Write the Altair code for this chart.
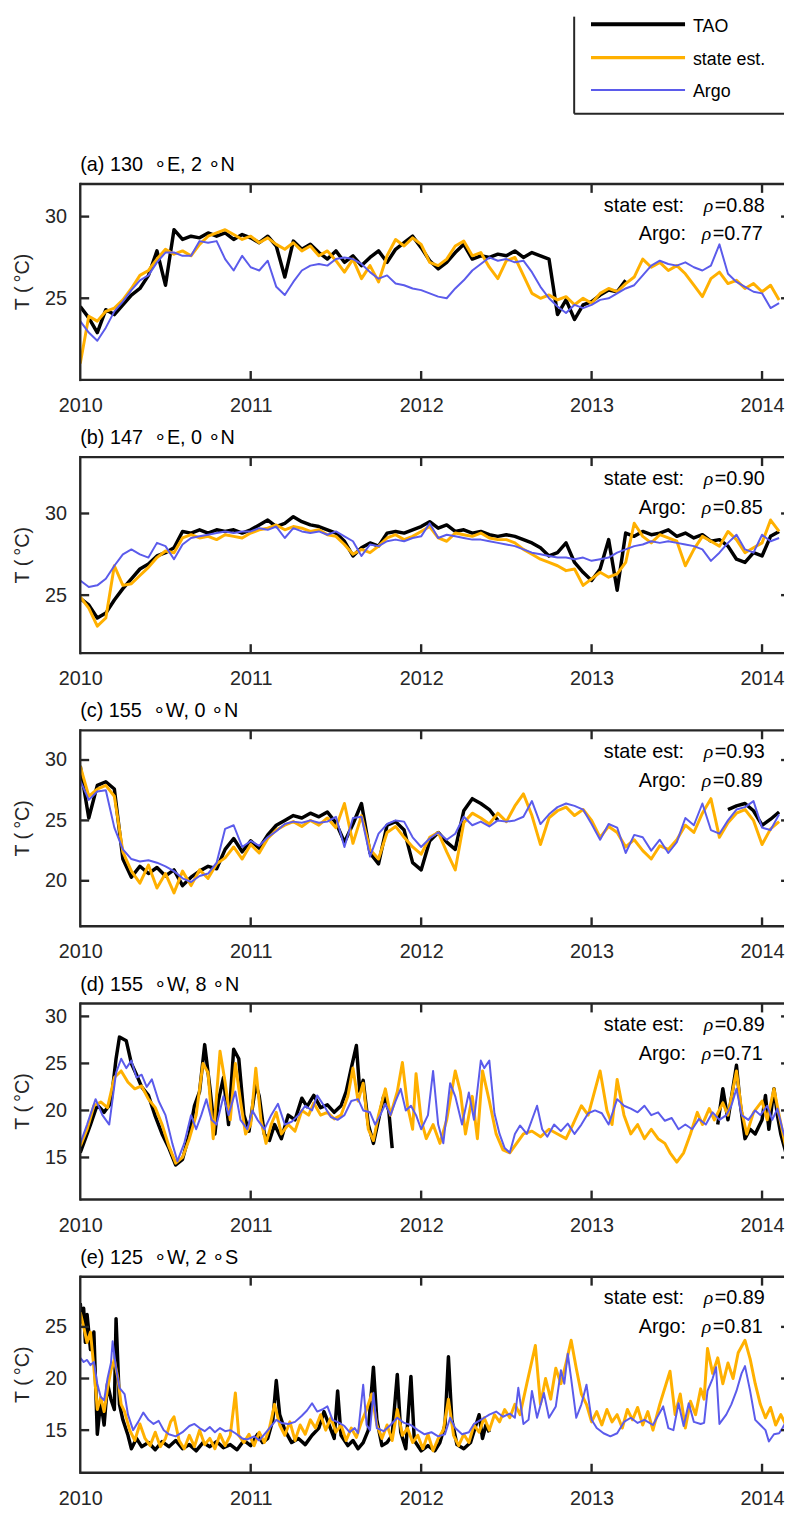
import altair as alt
import pandas as pd

# ---------------- data ----------------
GRID = [round(2010 + 0.05 * i, 2) for i in range(83)]   # sampling dates for panels a-c

A_TAO = [24.5, 23.8, 22.9, 24.3, 24.0, 24.6, 25.2, 25.6, 26.4, 27.9,
         25.8, 29.2, 28.6, 28.8, 28.7, 29.0, 28.8, 29.0, 28.6, 28.9,
         28.7, 28.4, 28.8, 28.2, 26.3, 28.5, 28.0, 28.3, 27.8, 27.4,
         27.9, 27.2, 27.6, 27.0, 27.5, 27.9, 27.2, 28.0, 28.4, 28.8,
         28.1, 27.3, 26.8, 27.2, 27.8, 28.3, 27.4, 27.6, 27.5, 27.7,
         27.6, 27.9, 27.5, 27.8, 27.6, 27.4, 24.0, 24.9, 23.7, 24.6,
         24.8, 25.2, 25.5, 25.4, 26.1]
A_EST = [21.0, 23.9, 23.6, 24.2, 24.4, 24.9, 25.6, 26.4, 26.7, 27.4,
         28.0, 27.7, 27.9, 27.6, 28.3, 28.8, 29.0, 29.2, 28.9, 28.6,
         28.8, 28.4, 28.7, 28.3, 28.0, 28.4, 27.9, 28.2, 27.6, 27.9,
         27.3, 26.6, 27.4, 26.2, 27.0, 26.0, 27.6, 28.6, 28.2, 28.7,
         28.3, 27.2, 27.0, 27.4, 28.2, 28.5, 27.6, 27.8, 26.9, 26.2,
         27.3, 27.5, 26.4, 25.3, 25.0, 25.2, 24.9, 25.1, 24.6, 25.0,
         24.7, 25.3, 25.6, 25.4, 25.9, 26.3, 27.4, 26.9, 27.2, 26.7,
         27.0, 26.5, 25.8, 25.1, 26.2, 26.6, 25.9, 26.1, 25.6, 25.9,
         25.4, 25.8, 24.9]
A_ARGO = [23.6, 22.9, 22.4, 23.2, 24.2, 24.8, 25.5, 26.1, 26.4, 27.2,
          27.8, 27.8, 27.6, 27.6, 28.5, 28.4, 28.5, 27.4, 26.7, 27.6,
          26.9, 26.7, 27.3, 25.7, 25.2, 26.0, 26.7, 27.0, 27.1, 27.0,
          27.4, 27.5, 27.4, 27.1, 26.6, 26.2, 26.4, 25.9, 25.8, 25.6,
          25.5, 25.3, 25.1, 25.0, 25.6, 26.1, 26.7, 27.1, 27.5, 27.3,
          27.4, 27.2, 27.3, 26.6, 25.7, 25.0, 24.5, 24.1, 24.6, 24.4,
          24.6, 24.9, 25.0, 25.3, 25.6, 25.8, 26.4, 27.0, 27.3, 27.1,
          27.0, 27.2, 26.9, 26.7, 27.0, 28.3, 26.5, 26.0, 25.7, 25.4,
          25.3, 24.4, 24.7]

B_TAO = [24.8, 24.4, 23.6, 23.9, 24.7, 25.4, 26.0, 26.6, 26.9, 27.4,
         27.6, 27.9, 28.9, 28.8, 29.0, 28.8, 29.0, 28.9, 29.0, 28.8,
         29.0, 29.3, 29.6, 29.2, 29.4, 29.8, 29.5, 29.3, 29.2, 29.0,
         28.8, 28.3, 27.4, 27.9, 28.2, 28.0, 28.8, 28.9, 28.8, 29.0,
         29.2, 29.5, 29.1, 29.3, 28.9, 29.0, 28.8, 28.9, 28.7, 28.6,
         28.7, 28.6, 28.4, 28.2, 27.9, 27.4, 27.6, 28.2, 27.0, 26.4,
         25.9, 26.6, 28.4, 25.3, 28.8, 28.6, 28.9, 28.7, 28.8, 29.0,
         28.6, 28.8, 28.5, 28.7, 28.3, 28.4, 28.0, 27.2, 27.0, 27.6,
         27.4, 28.6, 28.9]
B_EST = [24.9, 24.2, 23.1, 23.6, 26.8, 25.6, 25.7, 26.2, 26.7, 27.3,
         27.7, 27.6, 28.5, 28.7, 28.5, 28.6, 28.4, 28.7, 28.6, 28.5,
         28.8, 29.0, 29.1, 29.3, 29.0, 29.2, 29.1, 28.9, 29.0, 28.7,
         28.6, 28.1, 27.5, 27.8, 27.6, 28.0, 28.5, 28.7, 28.4, 28.6,
         28.9, 29.2, 28.5, 28.3, 28.8, 28.7, 28.6, 28.8, 28.5, 28.4,
         28.4, 28.2, 27.8, 27.5, 27.2, 27.0, 26.8, 26.5, 26.6, 25.6,
         26.0, 26.4, 26.1, 26.3, 27.0, 29.4, 28.6, 28.2, 28.7, 28.5,
         28.3, 26.8, 27.8, 28.6, 28.3, 28.0, 28.9, 28.4, 27.6, 27.9,
         28.2, 29.6, 28.9]
B_ARGO = [25.9, 25.5, 25.6, 26.0, 26.8, 27.5, 27.8, 27.5, 27.3, 28.2,
          28.0, 27.2, 28.1, 28.5, 28.6, 28.7, 28.8, 28.9, 28.8, 28.9,
          28.9, 29.1, 29.0, 29.2, 28.5, 29.1, 28.9, 28.8, 28.9, 28.7,
          28.9, 28.6, 28.3, 27.4, 28.1, 28.0, 28.3, 28.4, 28.3, 28.5,
          28.6, 29.4, 28.5, 28.7, 28.6, 28.5, 28.4, 28.4, 28.3, 28.2,
          28.1, 28.0, 27.8, 27.6, 27.5, 27.4, 27.3, 27.3, 27.2, 27.3,
          27.1, 27.2, 27.3, 27.6, 27.8, 28.0, 28.1, 28.3, 28.2, 28.3,
          28.2, 28.1, 28.0, 27.8, 27.1, 27.6, 28.2, 28.7, 27.8, 27.6,
          28.7, 28.3, 28.5]

C_TAO = [29.5, 25.2, 27.9, 28.2, 27.6, 21.8, 20.3, 21.2, 20.6, 21.1,
         20.4, 20.9, 19.6, 20.3, 20.8, 21.2, 21.0, 22.6, 23.5, 22.4,
         23.3, 22.7, 23.8, 24.6, 25.0, 25.4, 25.2, 25.6, 25.3, 25.7,
         24.8, 23.2, 24.7, 26.4, 22.3, 21.4, 24.6, 24.9, 24.2, 21.5,
         20.9, 23.3, 24.0, 23.2, 22.6, 25.8, 26.8, 26.4, 25.9, 25.0,
         None, None, None, None, None, None, None, None, None, None,
         None, None, None, None, None, None, None, None, None, None,
         None, None, None, None, None, None,
         25.9, 26.2, 26.4, 25.8, 24.6, 25.1, 25.7]
C_EST = [29.5, 27.0, 27.6, 27.9, 27.0, 22.4, 20.8, 19.8, 21.3, 19.4,
         20.6, 19.0, 20.8, 19.6, 20.9, 20.2, 21.4, 21.9, 22.8, 21.8,
         23.0, 22.3, 23.5, 24.2, 24.6, 24.9, 24.5, 25.0, 24.6, 25.2,
         24.4, 26.4, 23.1, 25.4, 22.6, 21.8, 24.0, 24.5, 23.6, 22.8,
         22.2, 23.6, 24.0, 22.4, 20.9, 24.8, 25.6, 25.2, 24.7, 25.6,
         24.9, 26.2, 27.2, 25.4, 23.0, 25.2, 25.8, 26.1, 25.4, 25.9,
         25.0, 23.6, 24.5, 24.0, 22.8, 23.4, 22.5, 21.8, 22.9, 22.6,
         23.4, 24.6, 24.0, 25.6, 26.8, 23.6, 24.8, 25.6, 25.9, 25.0,
         23.0, 24.3, 24.9]
C_ARGO = [28.3, 26.7, 27.4, 27.5, 24.4, 22.6, 21.8, 21.6, 21.7, 21.5,
          21.2, 20.8, 20.2, 19.9, 20.4, 20.6, 21.5, 24.3, 24.6, 22.8,
          23.3, 22.9, 23.6, 24.1, 24.7, 24.9, 24.8, 25.0, 24.8, 24.9,
          25.3, 22.8, 25.2, 25.3, 22.0, 23.9, 24.7, 25.0, 24.9, 23.6,
          22.8, 23.5, 24.0, 23.4, 23.9, 25.3, 24.6, 24.9, 24.5, 25.0,
          24.9, 25.0, 25.3, 26.6, 24.7, 25.5, 26.1, 26.4, 26.2, 25.9,
          24.7, 23.4, 24.7, 24.4, 22.3, 23.8, 23.6, 22.5, 23.4, 22.3,
          23.2, 25.2, 24.6, 26.4, 24.2, 23.9, 25.0, 25.9, 26.1, 26.6,
          24.4, 24.2, 25.5]

D_TAO = [(2010.00, 15.5), (2010.03, 17.0), (2010.06, 18.5), (2010.10, 20.6), (2010.14, 19.8),
         (2010.18, 20.8), (2010.21, 25.5), (2010.23, 27.8), (2010.27, 27.4), (2010.30, 25.0),
         (2010.33, 23.8), (2010.36, 22.5), (2010.40, 21.6), (2010.44, 19.4), (2010.48, 17.5),
         (2010.52, 16.0), (2010.56, 14.2), (2010.60, 14.8), (2010.64, 17.5), (2010.67, 20.5),
         (2010.70, 22.0), (2010.73, 27.0), (2010.76, 22.5), (2010.79, 17.5), (2010.81, 21.0),
         (2010.84, 23.5), (2010.87, 18.5), (2010.90, 26.5), (2010.93, 25.5), (2010.96, 19.5),
         (2010.99, 17.8), (2011.03, 22.8), (2011.05, 21.5), (2011.08, 17.5), (2011.11, 16.8),
         (2011.14, 18.5), (2011.18, 17.0), (2011.22, 19.5), (2011.26, 19.0), (2011.30, 21.3),
         (2011.33, 20.4), (2011.37, 21.6), (2011.41, 20.3), (2011.45, 20.6), (2011.49, 19.8),
         (2011.53, 20.5), (2011.56, 22.0), (2011.59, 24.5), (2011.62, 26.9), (2011.64, 22.0),
         (2011.66, 23.2), (2011.69, 18.5), (2011.72, 16.5), (2011.75, 19.0), (2011.78, 21.5),
         (2011.81, 20.0), (2011.83, 16.0), (2012.50, None),
         (2013.74, 18.5), (2013.77, 22.3), (2013.80, 19.0), (2013.85, 24.8), (2013.87, 21.0),
         (2013.90, 17.0), (2013.93, 18.0), (2013.96, 17.5), (2014.00, 19.0), (2014.02, 21.6),
         (2014.04, 18.0), (2014.07, 22.3), (2014.09, 19.5), (2014.11, 17.5), (2014.14, 15.5)]
D_EST = [(2010.00, 16.2), (2010.04, 18.0), (2010.08, 20.5), (2010.12, 20.9), (2010.16, 20.3),
         (2010.20, 23.5), (2010.24, 24.2), (2010.28, 23.0), (2010.32, 22.3), (2010.36, 22.6),
         (2010.40, 21.2), (2010.44, 20.3), (2010.48, 18.5), (2010.52, 16.2), (2010.56, 14.4),
         (2010.60, 15.0), (2010.64, 17.0), (2010.68, 19.5), (2010.72, 25.0), (2010.75, 24.0),
         (2010.78, 17.0), (2010.82, 26.3), (2010.85, 23.0), (2010.88, 19.0), (2010.91, 25.0),
         (2010.94, 21.0), (2010.97, 17.5), (2011.00, 18.5), (2011.03, 24.5), (2011.06, 19.0),
         (2011.09, 16.5), (2011.12, 18.5), (2011.15, 19.8), (2011.18, 17.5), (2011.22, 18.5),
         (2011.26, 17.8), (2011.30, 20.0), (2011.34, 19.5), (2011.37, 20.8), (2011.41, 19.5),
         (2011.45, 19.8), (2011.49, 19.1), (2011.53, 19.5), (2011.57, 21.5), (2011.60, 24.5),
         (2011.63, 21.0), (2011.66, 22.9), (2011.69, 18.0), (2011.72, 16.8), (2011.75, 19.5),
         (2011.79, 22.3), (2011.82, 19.5), (2011.86, 22.0), (2011.89, 25.1), (2011.92, 20.5),
         (2011.95, 18.0), (2011.97, 23.9), (2012.00, 19.0), (2012.03, 17.0), (2012.07, 18.5),
         (2012.11, 16.5), (2012.15, 19.0), (2012.20, 24.2), (2012.23, 22.0), (2012.26, 17.5),
         (2012.30, 21.5), (2012.33, 17.0), (2012.36, 24.2), (2012.40, 21.0), (2012.44, 17.5),
         (2012.48, 15.8), (2012.52, 15.5), (2012.56, 16.5), (2012.60, 17.5), (2012.65, 17.8),
         (2012.70, 17.2), (2012.75, 18.0), (2012.80, 17.5), (2012.85, 17.0), (2012.89, 18.5),
         (2012.94, 20.5), (2012.98, 19.5), (2013.05, 24.2), (2013.09, 20.0), (2013.12, 18.5),
         (2013.15, 23.3), (2013.19, 19.5), (2013.23, 17.5), (2013.27, 18.5), (2013.31, 17.0),
         (2013.35, 18.0), (2013.39, 17.0), (2013.43, 16.5), (2013.46, 15.5), (2013.50, 14.5),
         (2013.54, 15.5), (2013.58, 17.5), (2013.62, 19.8), (2013.65, 18.5), (2013.69, 20.2),
         (2013.72, 19.0), (2013.77, 20.8), (2013.80, 19.5), (2013.85, 24.2), (2013.88, 20.0),
         (2013.91, 17.5), (2013.95, 19.8), (2014.00, 21.0), (2014.03, 19.0), (2014.07, 22.3),
         (2014.10, 19.5), (2014.14, 16.0)]
D_ARGO = [(2010.00, 16.5), (2010.04, 18.5), (2010.09, 21.2), (2010.13, 19.5), (2010.17, 18.5),
          (2010.21, 24.0), (2010.24, 25.5), (2010.27, 24.5), (2010.30, 25.3), (2010.33, 23.5),
          (2010.36, 23.8), (2010.39, 22.5), (2010.42, 23.3), (2010.46, 21.0), (2010.50, 19.5),
          (2010.54, 16.5), (2010.57, 14.6), (2010.61, 16.5), (2010.65, 19.5), (2010.68, 18.0),
          (2010.71, 19.5), (2010.74, 21.2), (2010.77, 19.0), (2010.80, 18.5), (2010.84, 21.5),
          (2010.87, 19.5), (2010.91, 22.0), (2010.94, 19.0), (2010.98, 18.0), (2011.01, 20.0),
          (2011.04, 19.0), (2011.08, 18.0), (2011.12, 19.5), (2011.16, 20.7), (2011.20, 18.5),
          (2011.24, 18.8), (2011.28, 19.5), (2011.32, 20.5), (2011.36, 20.0), (2011.39, 21.6),
          (2011.43, 20.5), (2011.47, 19.3), (2011.51, 19.0), (2011.55, 19.5), (2011.59, 21.0),
          (2011.63, 21.2), (2011.66, 20.0), (2011.70, 19.8), (2011.73, 18.5), (2011.76, 19.5),
          (2011.79, 20.7), (2011.82, 19.5), (2011.85, 21.0), (2011.88, 22.3), (2011.91, 20.0),
          (2011.94, 20.5), (2011.97, 19.5), (2012.00, 18.0), (2012.04, 19.5), (2012.07, 24.2),
          (2012.10, 18.5), (2012.13, 16.5), (2012.17, 22.9), (2012.20, 21.5), (2012.24, 18.5),
          (2012.28, 21.9), (2012.31, 19.0), (2012.35, 25.3), (2012.37, 24.5), (2012.40, 25.3),
          (2012.43, 19.7), (2012.46, 17.5), (2012.49, 16.0), (2012.52, 15.5), (2012.55, 17.5),
          (2012.58, 18.4), (2012.62, 17.5), (2012.68, 20.5), (2012.71, 18.0), (2012.74, 17.2),
          (2012.78, 18.5), (2012.82, 17.8), (2012.86, 18.6), (2012.90, 17.5), (2012.94, 18.5),
          (2012.98, 19.7), (2013.02, 20.0), (2013.06, 19.7), (2013.10, 18.5), (2013.15, 21.2),
          (2013.19, 20.5), (2013.23, 20.2), (2013.27, 19.8), (2013.31, 20.5), (2013.35, 19.5),
          (2013.39, 19.8), (2013.43, 18.9), (2013.47, 19.2), (2013.51, 18.0), (2013.55, 18.5),
          (2013.59, 18.0), (2013.63, 19.1), (2013.67, 18.5), (2013.71, 19.8), (2013.75, 19.0),
          (2013.79, 19.5), (2013.82, 20.5), (2013.85, 22.3), (2013.88, 19.5), (2013.92, 19.0),
          (2013.96, 20.0), (2013.99, 19.5), (2014.03, 20.5), (2014.06, 19.0), (2014.09, 20.2),
          (2014.12, 18.0), (2014.14, 16.8)]

E_TAO = [(2010.00, 27.3), (2010.01, 25.5), (2010.02, 26.8), (2010.03, 23.5), (2010.04, 26.2),
         (2010.06, 22.8), (2010.08, 24.5), (2010.09, 19.5), (2010.10, 14.6), (2010.12, 17.8),
         (2010.14, 15.5), (2010.16, 19.5), (2010.18, 18.0), (2010.20, 17.0), (2010.21, 25.8),
         (2010.23, 17.5), (2010.25, 16.0), (2010.28, 14.5), (2010.30, 13.2), (2010.33, 14.2),
         (2010.36, 13.4), (2010.40, 13.8), (2010.44, 13.1), (2010.48, 13.9), (2010.52, 13.4),
         (2010.56, 14.0), (2010.60, 13.2), (2010.64, 13.6), (2010.68, 13.0), (2010.72, 13.8),
         (2010.76, 13.4), (2010.80, 13.9), (2010.84, 13.3), (2010.88, 13.6), (2010.92, 13.1),
         (2010.96, 14.0), (2011.00, 13.5), (2011.04, 14.6), (2011.07, 13.8), (2011.10, 14.2),
         (2011.13, 16.0), (2011.15, 19.8), (2011.17, 16.5), (2011.20, 15.0), (2011.24, 13.8),
         (2011.28, 14.2), (2011.32, 13.6), (2011.36, 14.5), (2011.40, 15.2), (2011.43, 16.8),
         (2011.46, 15.5), (2011.49, 14.2), (2011.51, 18.8), (2011.53, 14.5), (2011.57, 13.5),
         (2011.60, 14.0), (2011.63, 13.2), (2011.66, 13.8), (2011.69, 15.0), (2011.72, 21.1),
         (2011.74, 16.0), (2011.77, 13.5), (2011.80, 13.8), (2011.83, 14.5), (2011.86, 20.4),
         (2011.88, 14.8), (2011.91, 13.2), (2011.94, 20.2), (2011.96, 14.0), (2012.00, 13.0),
         (2012.04, 13.5), (2012.08, 13.0), (2012.11, 13.8), (2012.14, 15.5), (2012.16, 22.1),
         (2012.18, 16.0), (2012.21, 13.6), (2012.25, 13.2), (2012.29, 13.8), (2012.34, 16.5),
         (2012.36, 14.2), (2012.38, 15.5), (2012.40, 14.8)]
E_EST = [(2010.00, 26.4), (2010.02, 25.0), (2010.04, 23.5), (2010.06, 24.5), (2010.08, 21.0),
         (2010.10, 17.0), (2010.12, 18.2), (2010.14, 16.8), (2010.16, 19.0), (2010.18, 20.8),
         (2010.20, 21.8), (2010.22, 20.1), (2010.24, 17.5), (2010.26, 16.8), (2010.29, 15.0),
         (2010.32, 14.0), (2010.35, 15.6), (2010.38, 14.2), (2010.41, 13.5), (2010.44, 14.8),
         (2010.47, 13.4), (2010.50, 14.2), (2010.53, 15.8), (2010.55, 16.3), (2010.58, 14.0),
         (2010.61, 13.2), (2010.64, 14.5), (2010.67, 13.4), (2010.70, 15.0), (2010.73, 13.6),
         (2010.76, 14.2), (2010.79, 13.2), (2010.82, 14.6), (2010.85, 13.5), (2010.88, 14.5),
         (2010.91, 18.6), (2010.93, 14.5), (2010.96, 13.8), (2010.99, 14.6), (2011.02, 13.5),
         (2011.05, 14.8), (2011.08, 13.8), (2011.11, 15.2), (2011.14, 17.5), (2011.17, 15.5),
         (2011.20, 14.5), (2011.23, 15.8), (2011.26, 14.0), (2011.29, 15.5), (2011.32, 14.6),
         (2011.35, 16.0), (2011.38, 15.2), (2011.41, 16.5), (2011.44, 15.0), (2011.47, 16.2),
         (2011.50, 14.8), (2011.53, 15.5), (2011.56, 14.0), (2011.59, 15.2), (2011.62, 14.3),
         (2011.65, 15.8), (2011.68, 17.0), (2011.71, 18.5), (2011.74, 15.5), (2011.77, 14.2),
         (2011.80, 15.5), (2011.83, 14.0), (2011.86, 17.0), (2011.89, 14.5), (2011.92, 15.2),
         (2011.95, 13.8), (2011.98, 14.5), (2012.01, 13.2), (2012.04, 14.6), (2012.07, 13.0),
         (2012.10, 14.2), (2012.13, 15.0), (2012.16, 18.0), (2012.19, 14.5), (2012.22, 13.5),
         (2012.25, 14.6), (2012.28, 13.8), (2012.31, 15.5), (2012.34, 14.8), (2012.37, 16.2),
         (2012.40, 15.0), (2012.43, 16.5), (2012.46, 15.8), (2012.49, 17.0), (2012.52, 16.2),
         (2012.55, 17.5), (2012.58, 16.5), (2012.62, 19.5), (2012.67, 23.2), (2012.70, 17.5),
         (2012.73, 20.0), (2012.76, 18.0), (2012.79, 21.0), (2012.82, 19.5), (2012.85, 21.5),
         (2012.88, 23.7), (2012.91, 21.0), (2012.94, 18.5), (2012.97, 17.5), (2013.00, 15.8),
         (2013.03, 16.8), (2013.06, 15.5), (2013.09, 17.0), (2013.12, 15.8), (2013.15, 16.5),
         (2013.18, 15.2), (2013.21, 17.0), (2013.24, 16.0), (2013.27, 17.2), (2013.30, 15.5),
         (2013.33, 16.8), (2013.36, 15.0), (2013.40, 17.5), (2013.46, 20.7), (2013.49, 16.5),
         (2013.52, 18.5), (2013.55, 15.2), (2013.58, 17.8), (2013.61, 16.5), (2013.64, 19.0),
         (2013.66, 18.0), (2013.68, 22.9), (2013.71, 20.5), (2013.74, 22.0), (2013.77, 19.5),
         (2013.80, 21.5), (2013.83, 20.0), (2013.86, 22.5), (2013.90, 23.7), (2013.93, 21.9),
         (2013.96, 19.5), (2013.99, 17.5), (2014.02, 16.2), (2014.05, 17.2), (2014.08, 15.5),
         (2014.11, 16.5), (2014.14, 15.5)]
E_ARGO = [(2010.00, 22.0), (2010.02, 21.6), (2010.04, 21.8), (2010.06, 21.3), (2010.08, 21.6),
          (2010.10, 19.5), (2010.12, 18.2), (2010.14, 17.9), (2010.16, 20.0), (2010.18, 21.5),
          (2010.19, 23.6), (2010.21, 21.0), (2010.23, 19.1), (2010.26, 18.5), (2010.28, 16.5),
          (2010.31, 15.0), (2010.34, 15.8), (2010.37, 16.7), (2010.40, 16.0), (2010.43, 15.6),
          (2010.46, 15.9), (2010.49, 15.0), (2010.52, 14.6), (2010.56, 14.4), (2010.60, 14.8),
          (2010.64, 15.4), (2010.67, 15.6), (2010.70, 15.2), (2010.73, 14.9), (2010.76, 15.3),
          (2010.79, 14.8), (2010.82, 15.2), (2010.85, 14.9), (2010.88, 15.0), (2010.91, 14.7),
          (2010.95, 14.2), (2010.98, 14.1), (2011.02, 14.4), (2011.05, 14.0), (2011.08, 14.6),
          (2011.12, 15.4), (2011.15, 16.0), (2011.18, 15.7), (2011.22, 15.6), (2011.26, 15.8),
          (2011.30, 16.4), (2011.33, 16.9), (2011.36, 17.6), (2011.39, 16.8), (2011.42, 17.0),
          (2011.45, 17.3), (2011.48, 16.0), (2011.52, 15.7), (2011.55, 15.4), (2011.58, 14.8),
          (2011.61, 15.2), (2011.63, 14.7), (2011.66, 19.4), (2011.68, 15.5), (2011.70, 15.0),
          (2011.72, 18.6), (2011.74, 15.2), (2011.78, 14.9), (2011.82, 15.5), (2011.86, 16.2),
          (2011.90, 15.7), (2011.94, 15.5), (2011.98, 15.0), (2012.02, 14.6), (2012.06, 14.8),
          (2012.10, 14.4), (2012.14, 14.6), (2012.17, 16.2), (2012.20, 15.2), (2012.24, 14.6),
          (2012.28, 14.8), (2012.31, 15.6), (2012.34, 15.9), (2012.37, 16.2), (2012.40, 16.5),
          (2012.44, 16.8), (2012.48, 16.3), (2012.52, 16.6), (2012.55, 16.2), (2012.57, 19.1),
          (2012.60, 15.6), (2012.63, 16.0), (2012.65, 18.8), (2012.68, 16.2), (2012.72, 18.6),
          (2012.75, 16.2), (2012.79, 17.3), (2012.82, 20.8), (2012.84, 19.5), (2012.86, 22.4),
          (2012.88, 20.0), (2012.91, 16.2), (2012.94, 17.5), (2012.97, 19.4), (2013.00, 16.0),
          (2013.03, 15.2), (2013.07, 14.7), (2013.11, 14.4), (2013.15, 14.7), (2013.19, 15.8),
          (2013.23, 16.2), (2013.27, 15.7), (2013.31, 16.0), (2013.36, 15.5), (2013.42, 17.3),
          (2013.45, 15.2), (2013.48, 15.0), (2013.51, 17.6), (2013.54, 15.4), (2013.57, 17.6),
          (2013.60, 15.8), (2013.64, 15.6), (2013.66, 15.7), (2013.68, 18.8), (2013.71, 20.0),
          (2013.73, 21.1), (2013.75, 15.6), (2013.79, 16.5), (2013.82, 17.5), (2013.85, 18.8),
          (2013.88, 20.5), (2013.90, 21.2), (2013.93, 18.8), (2013.96, 16.0), (2013.99, 15.5),
          (2014.02, 15.0), (2014.04, 13.9), (2014.07, 14.6), (2014.10, 14.7), (2014.12, 15.2),
          (2014.14, 15.8)]

TITLES = ["(a) 130\u00a0 \u2218E, 2 \u2218N", "(b) 147\u00a0 \u2218E, 0 \u2218N",
          "(c) 155\u00a0 \u2218W, 0 \u2218N", "(d) 155\u00a0 \u2218W, 8 \u2218N",
          "(e) 125\u00a0 \u2218W, 2 \u2218S"]
RHO_EST = ["0.88", "0.90", "0.93", "0.89", "0.89"]
RHO_ARGO = ["0.77", "0.85", "0.89", "0.71", "0.81"]
Y_DOMAINS = [[20.0, 32.0], [21.45, 33.45], [16.23, 32.46], [10.53, 31.37], [10.88, 29.86]]
Y_TICKS = [[25, 30], [25, 30], [20, 25, 30], [15, 20, 25, 30], [15, 20, 25]]
YEARS = [2010, 2011, 2012, 2013, 2014]

# ---------------- styling ----------------
AX = "#262626"
COL_TAO, COL_EST, COL_ARGO = "#000000", "#FFB000", "#5B5BEB"
W, H = 711, 198
X_END = 2010 + W / 172.2
FONT = "Liberation Sans"
ONE = pd.DataFrame({"k": [0]})


def frame_from_grid(values, name):
    rows, seg = [], 0
    for t, v in zip(GRID, values):
        if v is None:
            seg += 1
            continue
        rows.append({"t": t, "v": v, "seg": seg, "s": name})
    return pd.DataFrame(rows)


def frame_from_pairs(pairs, name):
    rows, seg = [], 0
    for t, v in pairs:
        if v is None:
            seg += 1
            continue
        rows.append({"t": t, "v": v, "seg": seg, "s": name})
    return pd.DataFrame(rows)


def vrule(x, y1, y2, color=AX, sw=2.4, cap="butt"):
    return alt.Chart(ONE).mark_rule(color=color, strokeWidth=sw, strokeCap=cap).encode(
        x=alt.value(x), y=alt.value(y1), y2=alt.value(y2))


def hrule(x1, x2, y, color=AX, sw=2.4, cap="butt"):
    return alt.Chart(ONE).mark_rule(color=color, strokeWidth=sw, strokeCap=cap).encode(
        x=alt.value(x1), x2=alt.value(x2), y=alt.value(y))


def label(s, x, y, size=20, align="left", baseline="alphabetic", font=FONT,
          style="normal", color="black", angle=0):
    return alt.Chart(ONE).mark_text(text=s, fontSize=size, align=align, baseline=baseline,
                                    font=font, fontStyle=style, color=color, angle=angle).encode(
        x=alt.value(x), y=alt.value(y))


def panel(k, tao, est, argo, legend=False):
    xs = alt.Scale(domain=[2010, X_END], nice=False, zero=False)
    ys = alt.Scale(domain=Y_DOMAINS[k], nice=False, zero=False)
    xax = alt.Axis(values=YEARS, format="d", ticks=False, domain=False, grid=False,
                   labelFontSize=20, labelPadding=16, labelColor=AX, labelFlush=False,
                   labelFont=FONT, labelOverlap=False, title=None)
    yax = alt.Axis(values=Y_TICKS[k], ticks=False, domain=False, grid=False,
                   labelFontSize=20, labelPadding=14, labelColor=AX, labelFont=FONT,
                   labelOverlap=False, title=None)
    layers = []
    for df, col, sw in [(tao, COL_TAO, 3.5), (est, COL_EST, 3.0), (argo, COL_ARGO, 2.0)]:
        layers.append(
            alt.Chart(df).mark_line(color=col, strokeWidth=sw, clip=True, strokeJoin="round").encode(
                x=alt.X("t:Q", scale=xs, axis=xax),
                y=alt.Y("v:Q", scale=ys, axis=yax),
                detail="seg:N"))
    ytk = pd.DataFrame({"v": Y_TICKS[k]})
    xtk = pd.DataFrame({"t": YEARS[1:]})
    layers += [
        alt.Chart(ytk).mark_rule(color=AX, strokeWidth=2.4).encode(
            y=alt.Y("v:Q", scale=ys, axis=yax), x=alt.value(0), x2=alt.value(9)),
        alt.Chart(ytk).mark_rule(color=AX, strokeWidth=2.4).encode(
            y=alt.Y("v:Q", scale=ys, axis=yax), x=alt.value(W - 3), x2=alt.value(W)),
        alt.Chart(xtk).mark_rule(color=AX, strokeWidth=2.4).encode(
            x=alt.X("t:Q", scale=xs, axis=xax), y=alt.value(0), y2=alt.value(9)),
        alt.Chart(xtk).mark_rule(color=AX, strokeWidth=2.4).encode(
            x=alt.X("t:Q", scale=xs, axis=xax), y=alt.value(H - 9), y2=alt.value(H)),
        vrule(0, 0, H, cap="square"),
        hrule(0, W, 0),
        hrule(0, W, H),
        label(TITLES[k], 0, -13),
        label("T (\u2009\u00b0C)", -58, H / 2, align="center", baseline="middle", angle=270, color=AX),
        label("state est:", 610, 28, align="right"),
        label("\u03c1", 630, 28, font="Liberation Serif", style="italic"),
        label("=" + RHO_EST[k], 641, 28),
        label("Argo:", 612, 57, align="right"),
        label("\u03c1", 628, 57, font="Liberation Serif", style="italic"),
        label("=" + RHO_ARGO[k], 639, 57),
    ]
    if legend:
        layers += [
            vrule(-72.5, -168.5, -160, color="white", sw=1),
            vrule(499, -169, -71, sw=2),
            hrule(499, W, -71, sw=2),
            hrule(516, 611, -161.3, color=COL_TAO, sw=4),
            label("TAO", 619, -153.7, size=18),
            hrule(516, 611, -127.7, color=COL_EST, sw=3.3),
            label("state est.", 619, -120, size=18),
            hrule(516, 611, -95, color=COL_ARGO, sw=2),
            label("Argo", 619, -87.7, size=18),
        ]
    return alt.layer(*layers).properties(width=W, height=H)


pa = panel(0, frame_from_grid(A_TAO, "TAO"), frame_from_grid(A_EST, "est"),
           frame_from_grid(A_ARGO, "argo"), legend=True)
pb = panel(1, frame_from_grid(B_TAO, "TAO"), frame_from_grid(B_EST, "est"),
           frame_from_grid(B_ARGO, "argo"))
pc = panel(2, frame_from_grid(C_TAO, "TAO"), frame_from_grid(C_EST, "est"),
           frame_from_grid(C_ARGO, "argo"))
pdd = panel(3, frame_from_pairs(D_TAO, "TAO"), frame_from_pairs(D_EST, "est"),
            frame_from_pairs(D_ARGO, "argo"))
pe = panel(4, frame_from_pairs(E_TAO, "TAO"), frame_from_pairs(E_EST, "est"),
           frame_from_pairs(E_ARGO, "argo"))

chart = alt.vconcat(pa, pb, pc, pdd, pe, spacing=78, bounds="flush").properties(
    padding=0
).configure(background="white", font=FONT).configure_view(stroke=None)

chart.save("out.html", embed_options={"renderer": "svg", "actions": False})
